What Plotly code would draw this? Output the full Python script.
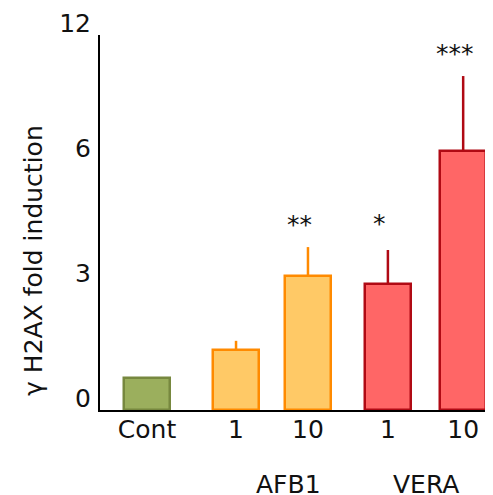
import plotly.graph_objects as go

# ---- data ----
categories = ["Cont", "1", "10", "1", "10"]
groups = ["", "AFB1", "AFB1", "VERA", "VERA"]
values = [0.77, 1.44, 3.22, 3.02, 6.43]
err_up = [0.0, 0.22, 0.69, 0.82, 3.6]
stars = ["", "", "**", "*", "***"]
tick_values = [0, 3, 6, 12]
tick_labels = ["0", "3", "6", "12"]

# ---- styles / layout ----
x_pos = [0.606, 1.753, 2.68, 3.71, 4.68]
group_label_shift = {"AFB1": 16, "VERA": 0}
fills = ["#9BAF5D", "#FFC966", "#FFC966", "#FF6666", "#FF6666"]
lines = ["#77883F", "#FF8A00", "#FF8A00", "#B00A14", "#B00A14"]
FONT = "DejaVu Sans"
FS = 25


def seg(v):
    # piecewise axis: 0-3, 3-6, 6-12 each take equal height
    if v <= 3:
        return v / 3
    if v <= 6:
        return 1 + (v - 3) / 3
    return 2 + (v - 6) / 6


fig = go.Figure()
for i in range(len(values)):
    top = seg(values[i])
    etop = seg(values[i] + err_up[i])
    fig.add_trace(go.Bar(
        x=[x_pos[i]], y=[top], width=0.59,
        marker=dict(color=fills[i], line=dict(color=lines[i], width=2.5)),
        error_y=dict(type="data", symmetric=False, array=[etop - top], arrayminus=[0],
                     color=lines[i], thickness=2.5, width=0, visible=err_up[i] > 0),
        showlegend=False, hoverinfo="skip",
    ))
    if stars[i]:
        fig.add_annotation(x=x_pos[i], y=etop, text=stars[i], showarrow=False,
                           yanchor="bottom", yshift=(10 if stars[i] == "*" else 6), xshift=-8,
                           font=dict(size=FS, color="#111", family=FONT))

# group labels
for g in ["AFB1", "VERA"]:
    xs = [x_pos[i] for i in range(len(groups)) if groups[i] == g]
    fig.add_annotation(x=sum(xs) / len(xs), xshift=group_label_shift[g], y=0, yref="paper",
                       yshift=-74, text=g, showarrow=False, yanchor="middle", xanchor="center",
                       font=dict(size=FS, color="#111", family=FONT))

fig.add_annotation(x=-0.173, xref="paper", y=0.4, yref="paper", text="γ H2AX fold induction",
                   textangle=-90, showarrow=False, xanchor="center", yanchor="middle",
                   font=dict(size=FS, color="#111", family=FONT))

# page body has an 8px default margin, so the figure is offset by 8px
fig.update_layout(
    width=485, height=487,
    margin=dict(l=92, r=5, t=27, b=85),
    plot_bgcolor="white", paper_bgcolor="white",
    bargap=0,
    xaxis=dict(range=[0, 5], tickvals=x_pos, ticktext=categories, showgrid=False,
               showline=True, linecolor="black", linewidth=2, ticks="", zeroline=False,
               automargin=False, ticklabelstandoff=-4,
               tickfont=dict(size=FS, color="#111", family=FONT)),
    yaxis=dict(range=[0, 3], tickvals=[seg(v) for v in tick_values], ticktext=tick_labels,
               showgrid=False, showline=True, linecolor="black", linewidth=2, ticks="",
               zeroline=False, ticklabelshift=-12, ticklabelstandoff=2, automargin=False,
               tickfont=dict(size=FS, color="#111", family=FONT)),
)

fig.write_html("out.html")
